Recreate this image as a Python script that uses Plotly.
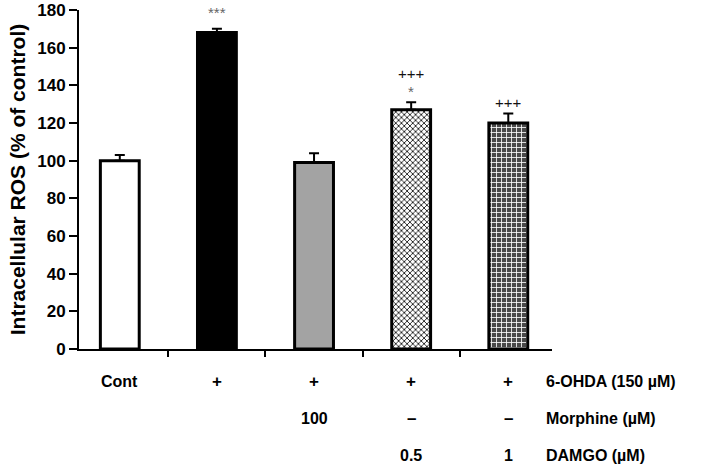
import plotly.graph_objects as go

categories = ["Cont", "6-OHDA", "6-OHDA+Morphine", "6-OHDA+DAMGO 0.5", "6-OHDA+DAMGO 1"]
values = [100, 168, 99, 127, 120]
errors = [3, 2, 5, 4, 5]
sig_stars = ["", "***", "", "*", ""]
sig_plus = ["", "", "", "+++", "+++"]
row_ohda = ["Cont", "+", "+", "+", "+"]
row_morphine = ["", "", "100", "–", "–"]
row_damgo = ["", "", "", "0.5", "1"]
row_names = ["6-OHDA (150 µM)", "Morphine (µM)", "DAMGO (µM)"]
y_ticks = [0, 20, 40, 60, 80, 100, 120, 140, 160, 180]

FONT = "Liberation Sans, Arial, sans-serif"

fill_colors = ["white", "black", "#a3a3a3", "white", "#4a4a4a"]
pattern_shapes = ["", "", "", "x", "+"]
pattern_fg = ["black", "black", "black", "#1a1a1a", "white"]
pattern_size = [6, 6, 6, 4, 5]
pattern_solid = [0.3, 0.3, 0.3, 0.4, 0.3]

fig = go.Figure()
for i, cat in enumerate(categories):
    fig.add_trace(go.Bar(
        x=[i], y=[values[i]], width=0.40, name=cat,
        marker=dict(
            color=fill_colors[i],
            line=dict(color="black", width=3),
            pattern=dict(shape=pattern_shapes[i], fgcolor=pattern_fg[i], bgcolor=fill_colors[i],
                         size=pattern_size[i], solidity=pattern_solid[i], fillmode="replace"),
        ),
        error_y=dict(type="data", symmetric=False, array=[errors[i]],
                     arrayminus=[0], color="black", thickness=2, width=5),
        showlegend=False,
    ))

annotations = []
for i, (v, e) in enumerate(zip(values, errors)):
    shift = 0
    if sig_stars[i]:
        annotations.append(dict(x=i, y=v + e, xref="x", yref="y", text=sig_stars[i],
                                showarrow=False, yanchor="bottom", yshift=shift + (6 if i == 1 else 0),
                                font=dict(family=FONT, size=15, color="#666666")))
        shift += 17
    if sig_plus[i]:
        annotations.append(dict(x=i, y=v + e, xref="x", yref="y", text=sig_plus[i],
                                showarrow=False, yanchor="bottom", yshift=shift + 1,
                                font=dict(family=FONT, size=15, color="#111111")))

rows = [row_ohda, row_morphine, row_damgo]
row_y = [-0.097, -0.204, -0.313]
for r, ry, name in zip(rows, row_y, row_names):
    for i, t in enumerate(r):
        if t:
            annotations.append(dict(x=i, y=ry, xref="x", yref="paper", text=t,
                                    showarrow=False, yanchor="middle",
                                    font=dict(family=FONT, size=17 if t in ("+", "–") else 16,
                                              color="black", weight="bold")))
    annotations.append(dict(x=0.984, y=ry, xref="paper", yref="paper", text=name,
                            showarrow=False, xanchor="left", yanchor="middle",
                            font=dict(family=FONT, size=16, color="black", weight="bold")))

fig.update_layout(
    width=709, height=467,
    margin=dict(l=79, r=157, t=10, b=118, autoexpand=False),
    paper_bgcolor="white", plot_bgcolor="white",
    annotations=annotations,
    xaxis=dict(range=[-0.42, 4.45], showgrid=False, zeroline=False, showline=True,
               linecolor="black", linewidth=2, ticks="outside", ticklen=6, tickwidth=2,
               tickcolor="black", tickvals=[0.5, 1.5, 2.5, 3.5], showticklabels=False,
               automargin=False),
    yaxis=dict(range=[0, 180], tickvals=y_ticks, showgrid=False, zeroline=False,
               showline=True, linecolor="black", linewidth=2, ticks="outside", ticklen=8,
               tickwidth=2, tickcolor="black", automargin=False,
               tickfont=dict(family=FONT, size=17, color="black", weight="bold"),
               title=dict(text="Intracellular ROS (% of control)",
                          font=dict(family=FONT, size=21, color="black", weight="bold"),
                          standoff=6)),
)

fig.write_html("out.html", config={"displayModeBar": False},
               post_script="document.body.style.margin='0px';")
